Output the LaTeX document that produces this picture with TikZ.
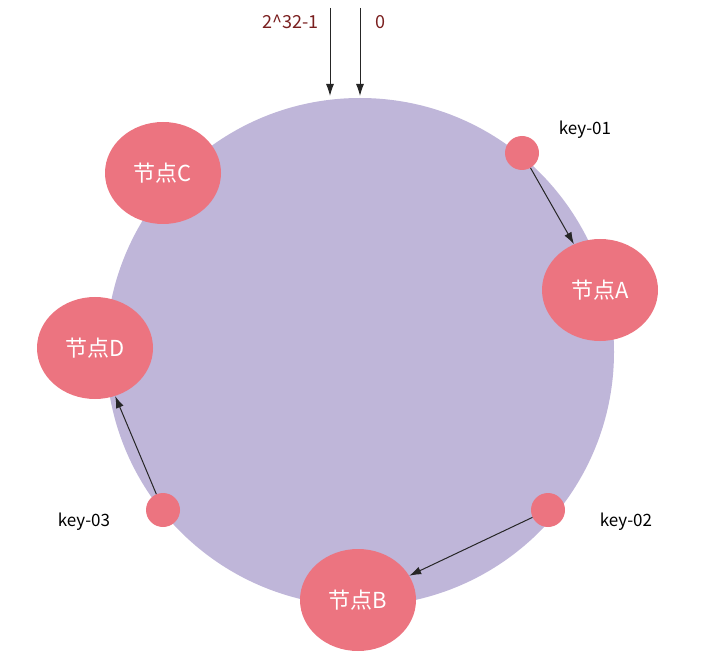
\documentclass[tikz,border=0pt]{standalone}
\usepackage{fontspec}
\setmainfont{Noto Sans CJK SC}
\usetikzlibrary{arrows.meta,shapes.geometric}
\definecolor{ringc}{HTML}{BFB6D9}
\definecolor{nodec}{HTML}{EC7480}
\definecolor{topc}{HTML}{7A1F1F}
\tikzset{
  server/.style={ellipse, fill=nodec, draw=none, minimum width=116pt, minimum height=102pt, text=white, font=\fontsize{22}{24}\selectfont, inner sep=0pt},
  keydot/.style={circle, fill=nodec, draw=none, minimum size=34pt, inner sep=0pt},
  keylbl/.style={font=\fontsize{17}{19}\selectfont, text=black},
  link/.style={-{Latex[length=12pt,width=8pt]}, line width=1pt, black!85}
}
\begin{document}
\begin{tikzpicture}[x=1pt,y=-1pt]
\useasboundingbox (0,0) rectangle (712,652);
\fill[ringc] (360,352) circle (254);
\node[server] (C) at (163,173) {节点C};
\node[server] (A) at (600,290) {节点A};
\node[server] (D) at (95,348) {节点D};
\node[server] (B) at (358,600) {节点B};
\node[keydot] (k1) at (522,153) {};
\node[keydot] (k2) at (548,510) {};
\node[keydot] (k3) at (163,510) {};
\node[keylbl] (l1) at (585,130) {key-01};
\node[keylbl] (l2) at (626,522) {key-02};
\node[keylbl] (l3) at (84,522) {key-03};
\coordinate (t1) at (330,8);
\coordinate (e1) at (330,96);
\coordinate (t2) at (360,8);
\coordinate (e2) at (360,96);
\draw[link] (t1) -- (e1);
\draw[link] (t2) -- (e2);
\node[font=\fontsize{18}{20}\selectfont, text=topc, anchor=east] (max) at (322,22) {2\^{}32-1};
\node[font=\fontsize{18}{20}\selectfont, text=topc, anchor=west] (zero) at (372,22) {0};
\draw[link] (k1) -- (A);
\draw[link] (k2) -- (B);
\draw[link] (k3) -- (D);
\end{tikzpicture}
\end{document}
